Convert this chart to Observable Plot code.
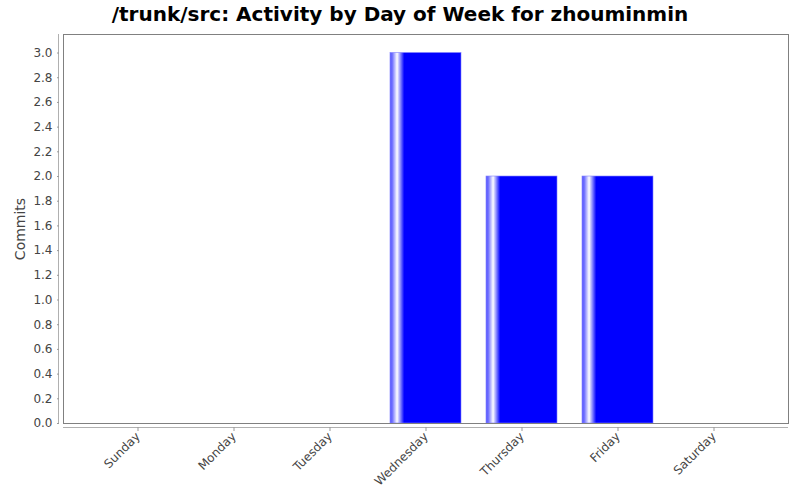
<!DOCTYPE html>
<html><head><meta charset="utf-8">
<script src="https://cdn.jsdelivr.net/npm/d3@7"></script>
<script src="https://cdn.jsdelivr.net/npm/@observablehq/plot@0.6"></script>
<style>
body{margin:0;background:#fff;font-family:"DejaVu Sans",sans-serif;}
#title{height:30px;line-height:28px;text-align:center;font-weight:bold;font-size:20px;color:#000;width:800px;}
</style></head><body>
<div id="title">/trunk/src: Activity by Day of Week for zhouminmin</div>
<div id="chart"></div>
<script>
const days = ["Sunday","Monday","Tuesday","Wednesday","Thursday","Friday","Saturday"];
const commits = [0,0,0,3,2,2,0];
const yTicks = [0,0.2,0.4,0.6,0.8,1.0,1.2,1.4,1.6,1.8,2.0,2.2,2.4,2.6,2.8,3.0];
const data = days.map((d,i)=>({day:d, commits:commits[i]}));

const defs = () => {
  const g = d3.create("svg:defs");
  const lg = g.append("linearGradient").attr("id","barGrad").attr("x1","0").attr("x2","1").attr("y1","0").attr("y2","0");
  [[0,"#5a5aff"],[0.03,"#6a6aff"],[0.10,"#ffffff"],[0.20,"#0000ff"],[1,"#0000ff"]]
    .forEach(([o,c])=>lg.append("stop").attr("offset",o).attr("stop-color",c));
  return g.node();
};
const axisLines = (index, scales, values, dim) => {
  const g = d3.create("svg:g").attr("stroke","#b0b0b0").attr("fill","none");
  const l = dim.marginLeft, r = dim.width - dim.marginRight, t = dim.marginTop, b = dim.height - dim.marginBottom;
  g.append("line").attr("x1",l-4.5).attr("x2",l-4.5).attr("y1",t).attr("y2",b);
  g.append("line").attr("x1",l).attr("x2",r).attr("y1",b+4.5).attr("y2",b+4.5);
  return g.node();
};

const chart = Plot.plot({
  width: 800, height: 470,
  marginTop: 4, marginLeft: 63, marginRight: 12, marginBottom: 77,
  style: {fontFamily: '"DejaVu Sans", sans-serif', fontSize: "11px", color: "#444"},
  x: {domain: days, paddingInner: 0.256, paddingOuter: 0.375, label: null},
  y: {domain: [0, 3.15], label: null},
  marks: [
    defs,
    Plot.barY(data.filter(d=>d.commits>0), {x:"day", y:"commits", fill:"url(#barGrad)", stroke:"#7f7fff", strokeWidth:0.6}),
    Plot.frame({stroke:"#808080"}),
    axisLines,
    Plot.axisY({ticks: yTicks, tickFormat: d3.format(".1f"), tickSize: 2, dx: -4, tickPadding: 5, stroke:"#999", fill:"#444",
      label: null, fontSize: 12}),
    Plot.axisY({ticks: [], label: "Commits", labelAnchor: "center", labelArrow: false, labelOffset: 48, fontSize: 14, fill:"#444"}),
    Plot.axisX({tickSize: 4, dy: 4, tickRotate: -45, tickPadding: 3, stroke:"#999", fill:"#444", label: null, fontSize: 12})
  ]
});
document.getElementById("chart").appendChild(chart);
</script></body></html>
